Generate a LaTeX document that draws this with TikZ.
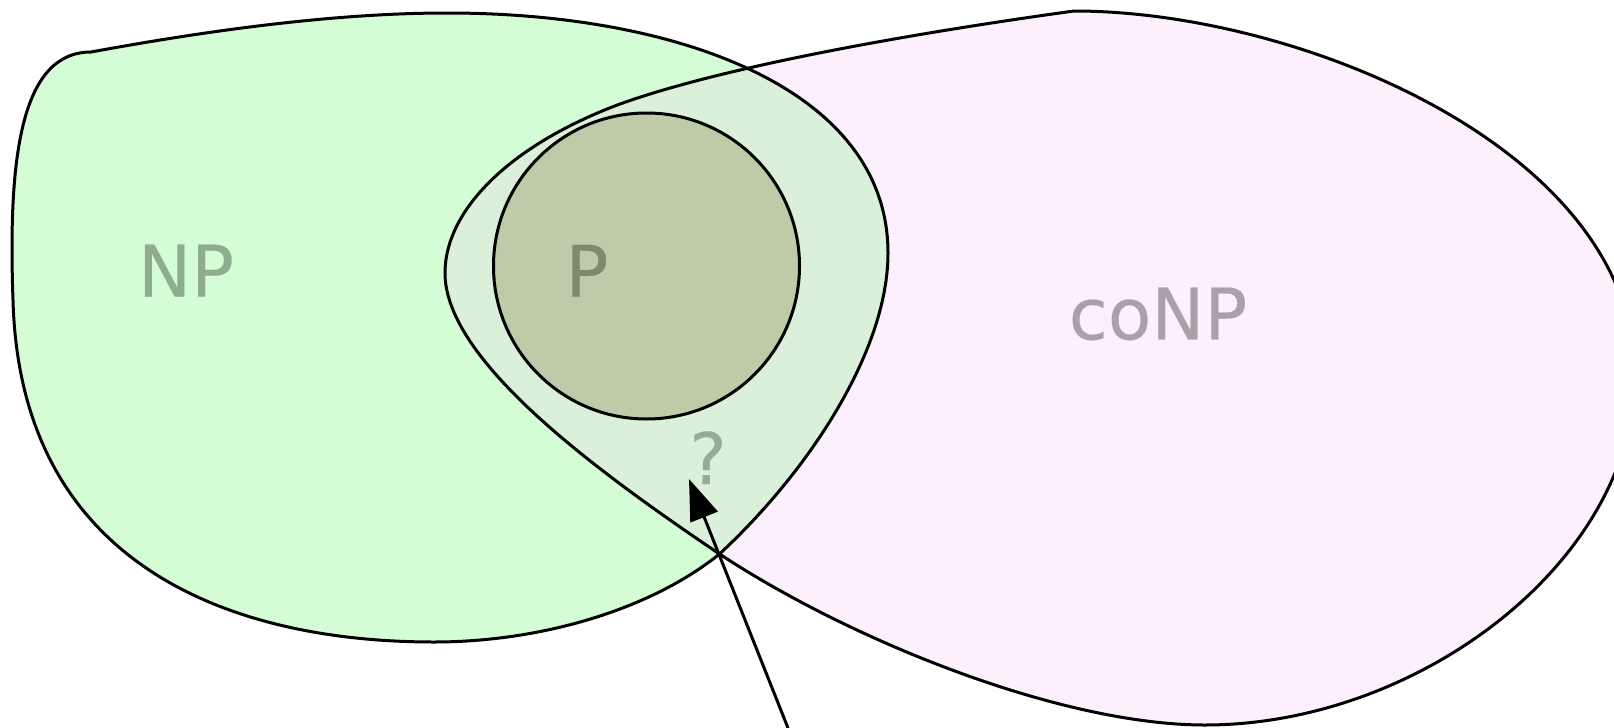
\documentclass[tikz,border=0pt]{standalone}
\usepackage{fontspec}
\setmainfont[FakeBold=0.3]{DejaVu Sans ExtraLight}
\usetikzlibrary{arrows.meta}

\definecolor{npgreen}{HTML}{D5FDD5}
\definecolor{conppink}{HTML}{FDF0FD}
\definecolor{bothgreen}{HTML}{DAF0DA}
\definecolor{pgreen}{HTML}{BDCBA8}
\definecolor{nptext}{HTML}{8FAC8F}
\definecolor{ptext}{HTML}{7F896F}
\definecolor{conptext}{HTML}{AAA0AA}
\definecolor{qtext}{HTML}{9AAA9A}

% outlines of the two classes
\newcommand{\npoutline}{(91,52) .. controls (200,32) and (330,13) .. (447,13)
  .. controls (680,13) and (888,90) .. (888,253)
  .. controls (888,350) and (810,470) .. (719.5,554)
  .. controls (650,610) and (540,642) .. (434,642)
  .. controls (230,642) and (20,565) .. (13,300)
  .. controls (8,160) and (20,52) .. cycle}
\newcommand{\conpoutline}{(1074,11) .. controls (1300,11) and (1635,150) .. (1635,375)
  .. controls (1635,560) and (1420,725) .. (1205,725)
  .. controls (1060,725) and (850,640) .. (719.5,554)
  .. controls (595,470) and (445,360) .. (445,273)
  .. controls (445,210) and (510,145) .. (620,104)
  .. controls (720,68) and (900,35) .. cycle}

\tikzset{
  outline/.style={draw=black, line width=3pt},
  classlabel/.style={inner sep=0pt, anchor=base, font=\fontsize{71}{78}\selectfont\bfseries},
  pointer/.style={-{Triangle[length=41pt,width=29pt]}, line width=3pt},
}

\begin{document}
\begin{tikzpicture}[x=1pt,y=-1pt]
\useasboundingbox (0,0) rectangle (1614,728);
\fill[npgreen] \npoutline;
\fill[conppink] \conpoutline;
\begin{scope}
  \clip \npoutline;
  \fill[bothgreen] \conpoutline;
\end{scope}
\fill[pgreen] (646.5,266) circle[radius=153];
\draw[outline] \npoutline;
\draw[outline] \conpoutline;
\draw[outline] (646.5,266) circle[radius=153];

\node[classlabel, text=nptext] (np) at (186,296.5) {NP};
\node[classlabel, text=ptext] (p) at (587,296.7) {P};
\node[classlabel, text=conptext] (conp) at (1158,339.3) {coNP};
\node[classlabel, text=qtext] (q) at (708,484) {?};

\coordinate (src) at (788,728);
\coordinate (tip) at (689,479);
\draw[pointer] (src) -- (tip);
\end{tikzpicture}
\end{document}
